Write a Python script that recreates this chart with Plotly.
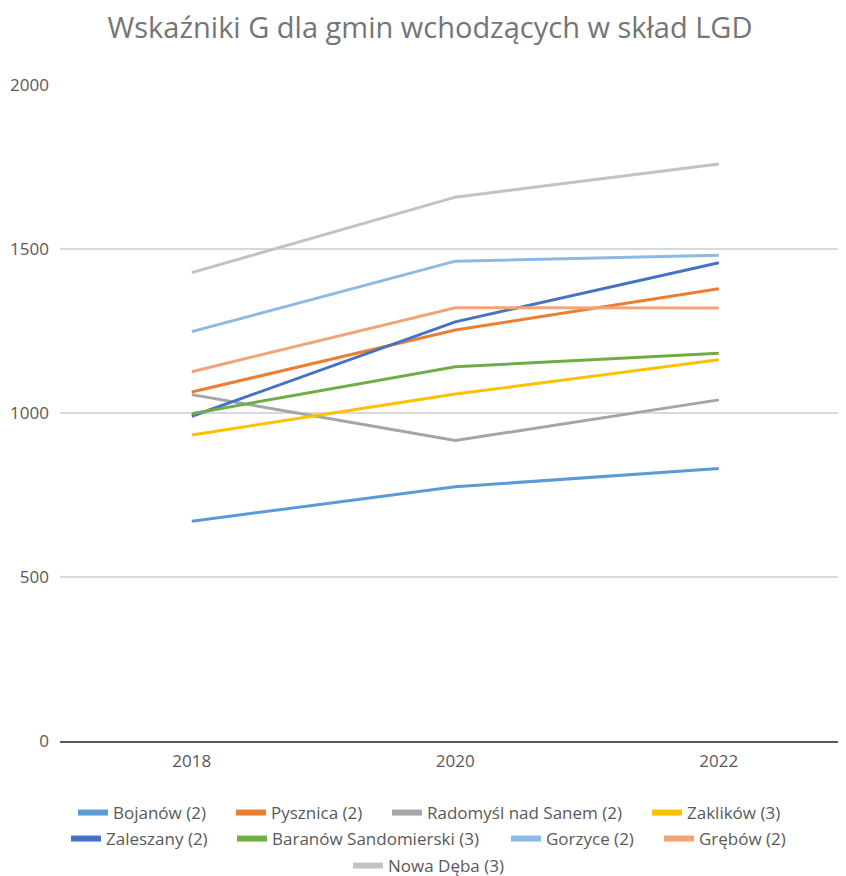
import plotly.graph_objects as go

years = ["2018", "2020", "2022"]
names = ["Bojanów (2)", "Pysznica (2)", "Radomyśl nad Sanem (2)", "Zaklików (3)",
         "Zaleszany (2)", "Baranów Sandomierski (3)", "Gorzyce (2)", "Grębów (2)",
         "Nowa Dęba (3)"]
bojanow = [670, 775, 831]
pysznica = [1064, 1253, 1379]
radomysl = [1056, 916, 1040]
zaklikow = [933, 1058, 1162]
zaleszany = [990, 1278, 1458]
baranow = [998, 1141, 1182]
gorzyce = [1248, 1463, 1481]
grebow = [1126, 1321, 1320]
nowa_deba = [1428, 1658, 1759]
series = [bojanow, pysznica, radomysl, zaklikow, zaleszany, baranow, gorzyce, grebow, nowa_deba]
colors = ["#5B9BD5", "#ED7D31", "#A5A5A5", "#FFC000", "#4472C4", "#70AD47",
          "#8DB9E3", "#F3A477", "#C2C2C2"]

# legend entry placement (pixel text start, pixel row centre) in page coords
leg_x = [113, 271, 427, 687, 106, 272, 546, 699, 388]
leg_y = [813, 813, 813, 813, 839, 839, 839, 839, 866]

OFF = 8  # default body margin of the html page
FONT = "Open Sans"
W, H = 846, 876
fig = go.Figure()
legends = {}
for i, (name, vals, col) in enumerate(zip(names, series, colors)):
    lg = "legend" if i == 0 else f"legend{i + 1}"
    fig.add_trace(go.Scatter(x=years, y=vals, name=name, mode="lines",
                             line=dict(color=col, width=3), showlegend=False))
    fig.add_trace(go.Scatter(x=[years[0]], y=[None], name=name, mode="lines",
                             line=dict(color=col, width=6), legend=lg,
                             showlegend=True, hoverinfo="skip"))
    legends[lg] = dict(orientation="h", xref="container", yref="container",
                       x=(leg_x[i] - OFF - 40) / W, xanchor="left",
                       y=1 - (leg_y[i] - OFF) / H, yanchor="middle",
                       font=dict(family=FONT, size=17, color="#595959"),
                       bgcolor="rgba(0,0,0,0)", itemwidth=30)

fig.update_layout(
    width=W, height=H,
    margin=dict(l=60 - OFF, r=0, t=85 - OFF, b=H - (741 - OFF), autoexpand=False),
    paper_bgcolor="white", plot_bgcolor="white",
    title=dict(text="Wskaźniki G dla gmin wchodzących w skład LGD",
               x=(430 - OFF) / W, xanchor="center", y=1 - (28 - OFF) / H, yanchor="middle",
               font=dict(family=FONT, size=29, color="#757575")),
    xaxis=dict(type="category", range=[-0.5, 2.513], showgrid=False,
               showline=True, linecolor="#595959", linewidth=1.5, ticks="",
               tickfont=dict(family=FONT, size=17, color="#595959"),
               ticklabelstandoff=4, fixedrange=True),
    yaxis=dict(range=[0, 2000], tickvals=[0, 500, 1000, 1500, 2000],
               showgrid=True, gridcolor="#D9D9D9", gridwidth=1.5,
               zeroline=False, showline=False, ticks="",
               tickfont=dict(family=FONT, size=17, color="#595959"),
               ticklabelstandoff=10, fixedrange=True),
    showlegend=True,
    **legends,
)

fig.write_html("out.html")
